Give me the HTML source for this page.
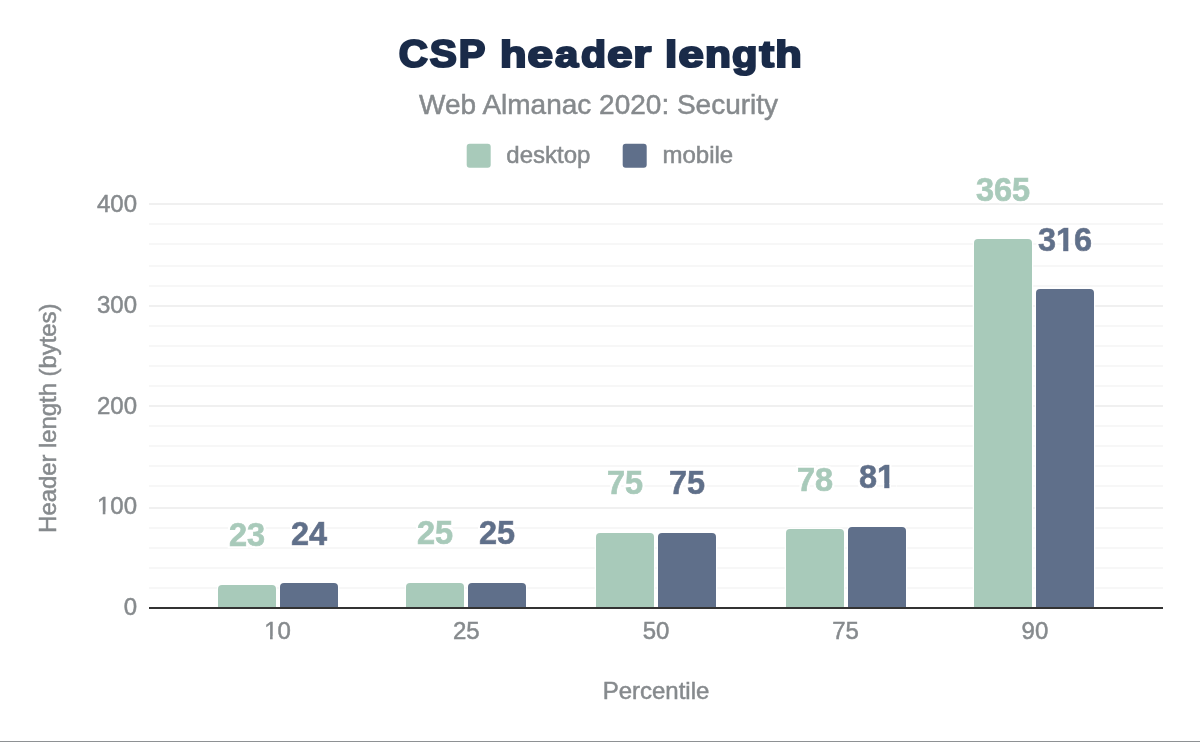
<!DOCTYPE html>
<html lang="en"><head><meta charset="utf-8"><title>CSP header length</title>
<style>
html,body{margin:0;padding:0;background:#fff;}
body{width:1200px;height:742px;overflow:hidden;position:relative;font-family:"Liberation Sans",sans-serif;}
svg{position:absolute;left:0;top:0;display:block;}
svg text{font-family:"Liberation Sans",sans-serif;}
.t{fill:#868a8d;font-size:24px;stroke:#868a8d;stroke-width:0.5px;}
.dl{font-size:32.5px;font-weight:bold;stroke-width:0.7px;}
#bottomline{position:absolute;left:0;top:741px;width:1200px;height:1px;background:#8e9194;}
</style></head><body>
<svg width="1200" height="742" viewBox="0 0 1200 742">
<rect width="1200" height="742" fill="#fff"/>
<defs><filter id="halo" x="-10%" y="-20%" width="120%" height="140%"><feMorphology in="SourceAlpha" operator="dilate" radius="1.5" result="d"/><feFlood flood-color="#fff"/><feComposite in2="d" operator="in"/><feMerge><feMergeNode/><feMergeNode in="SourceGraphic"/></feMerge></filter></defs>
<g shape-rendering="crispEdges">
<rect x="149" y="587" width="1014" height="2" fill="#f7f7f7"/>
<rect x="149" y="567" width="1014" height="2" fill="#f7f7f7"/>
<rect x="149" y="547" width="1014" height="2" fill="#f7f7f7"/>
<rect x="149" y="527" width="1014" height="2" fill="#f7f7f7"/>
<rect x="149" y="507" width="1014" height="2" fill="#f0f0f0"/>
<rect x="149" y="485" width="1014" height="2" fill="#f7f7f7"/>
<rect x="149" y="465" width="1014" height="2" fill="#f7f7f7"/>
<rect x="149" y="445" width="1014" height="2" fill="#f7f7f7"/>
<rect x="149" y="425" width="1014" height="2" fill="#f7f7f7"/>
<rect x="149" y="405" width="1014" height="2" fill="#f0f0f0"/>
<rect x="149" y="385" width="1014" height="2" fill="#f7f7f7"/>
<rect x="149" y="365" width="1014" height="2" fill="#f7f7f7"/>
<rect x="149" y="345" width="1014" height="2" fill="#f7f7f7"/>
<rect x="149" y="325" width="1014" height="2" fill="#f7f7f7"/>
<rect x="149" y="305" width="1014" height="2" fill="#f0f0f0"/>
<rect x="149" y="285" width="1014" height="2" fill="#f7f7f7"/>
<rect x="149" y="265" width="1014" height="2" fill="#f7f7f7"/>
<rect x="149" y="243" width="1014" height="2" fill="#f7f7f7"/>
<rect x="149" y="223" width="1014" height="2" fill="#f7f7f7"/>
<rect x="149" y="203" width="1014" height="2" fill="#f0f0f0"/>
</g>
<text id="title" y="67.1" font-size="37.5" font-weight="bold" fill="#1a2b49" stroke="#1a2b49" stroke-width="2.2" stroke-linejoin="miter" stroke-miterlimit="1.5" xml:space="preserve"><tspan x="398.88" font-size="39.2" textLength="29.09" lengthAdjust="spacingAndGlyphs">C</tspan><tspan x="429.67" font-size="39.2" textLength="27.08" lengthAdjust="spacingAndGlyphs">S</tspan><tspan x="458.75" font-size="39.2" textLength="26.59" lengthAdjust="spacingAndGlyphs">P</tspan> <tspan x="500.05" font-size="37.5" textLength="26.47" lengthAdjust="spacingAndGlyphs">h</tspan><tspan x="527.55" font-size="37.5" textLength="25.47" lengthAdjust="spacingAndGlyphs">e</tspan><tspan x="554.90" font-size="37.5" textLength="23.21" lengthAdjust="spacingAndGlyphs">a</tspan><tspan x="581.12" font-size="37.5" textLength="25.08" lengthAdjust="spacingAndGlyphs">d</tspan><tspan x="607.36" font-size="37.5" textLength="25.26" lengthAdjust="spacingAndGlyphs">e</tspan><tspan x="633.31" font-size="37.5" textLength="17.93" lengthAdjust="spacingAndGlyphs">r</tspan> <tspan x="664.92" font-size="37.5" textLength="12.20" lengthAdjust="spacingAndGlyphs">l</tspan><tspan x="678.56" font-size="37.5" textLength="25.26" lengthAdjust="spacingAndGlyphs">e</tspan><tspan x="705.05" font-size="37.5" textLength="25.94" lengthAdjust="spacingAndGlyphs">n</tspan><tspan x="731.91" font-size="37.5" textLength="25.45" lengthAdjust="spacingAndGlyphs">g</tspan><tspan x="759.45" font-size="37.5" textLength="14.51" lengthAdjust="spacingAndGlyphs">t</tspan><tspan x="775.25" font-size="37.5" textLength="26.47" lengthAdjust="spacingAndGlyphs">h</tspan></text>
<text id="subtitle" x="598.6" y="113.7" text-anchor="middle" font-size="28" fill="#868a8d" stroke="#868a8d" stroke-width="0.5">Web Almanac 2020: Security</text>
<rect x="466.7" y="143.7" width="24" height="24" rx="3" fill="#a8caba"/>
<text class="t" x="506.3" y="163">desktop</text>
<rect x="622.7" y="143.7" width="24" height="24" rx="3" fill="#5f6f8a"/>
<text class="t" x="662.5" y="163">mobile</text>
<text class="t" x="137" y="615.1" text-anchor="end">0</text>
<text class="t" x="137" y="514.3" text-anchor="end">100</text>
<text class="t" x="137" y="413.5" text-anchor="end">200</text>
<text class="t" x="137" y="312.6" text-anchor="end">300</text>
<text class="t" x="137" y="211.8" text-anchor="end">400</text>
<text class="t" transform="translate(56 418.2) rotate(-90)" text-anchor="middle" textLength="229.4" lengthAdjust="spacing">Header length (bytes)</text>
<path d="M218.0 608.0V589.0a4 4 0 0 1 4 -4H272.0a4 4 0 0 1 4 4V608.0Z" fill="#a8caba" stroke="#fff" stroke-width="2.6" paint-order="stroke"/>
<text class="dl" filter="url(#halo)" x="247.0" y="546.3" text-anchor="middle" fill="#a8caba" stroke="#a8caba">23</text>
<path d="M280.0 608.0V587.0a4 4 0 0 1 4 -4H334.0a4 4 0 0 1 4 4V608.0Z" fill="#5f6f8a" stroke="#fff" stroke-width="2.6" paint-order="stroke"/>
<text class="dl" filter="url(#halo)" x="309.0" y="544.9" text-anchor="middle" fill="#5f6f8a" stroke="#5f6f8a">24</text>
<text class="t" x="277.6" y="639" text-anchor="middle">10</text>
<path d="M406.0 608.0V587.0a4 4 0 0 1 4 -4H460.0a4 4 0 0 1 4 4V608.0Z" fill="#a8caba" stroke="#fff" stroke-width="2.6" paint-order="stroke"/>
<text class="dl" filter="url(#halo)" x="435.0" y="544.2" text-anchor="middle" fill="#a8caba" stroke="#a8caba">25</text>
<path d="M468.0 608.0V587.0a4 4 0 0 1 4 -4H522.0a4 4 0 0 1 4 4V608.0Z" fill="#5f6f8a" stroke="#fff" stroke-width="2.6" paint-order="stroke"/>
<text class="dl" filter="url(#halo)" x="497.0" y="544.2" text-anchor="middle" fill="#5f6f8a" stroke="#5f6f8a">25</text>
<text class="t" x="466.3" y="639" text-anchor="middle">25</text>
<path d="M596.0 608.0V537.0a4 4 0 0 1 4 -4H650.0a4 4 0 0 1 4 4V608.0Z" fill="#a8caba" stroke="#fff" stroke-width="2.6" paint-order="stroke"/>
<text class="dl" filter="url(#halo)" x="625.0" y="493.8" text-anchor="middle" fill="#a8caba" stroke="#a8caba">75</text>
<path d="M658.0 608.0V537.0a4 4 0 0 1 4 -4H712.0a4 4 0 0 1 4 4V608.0Z" fill="#5f6f8a" stroke="#fff" stroke-width="2.6" paint-order="stroke"/>
<text class="dl" filter="url(#halo)" x="687.0" y="493.8" text-anchor="middle" fill="#5f6f8a" stroke="#5f6f8a">75</text>
<text class="t" x="656.0" y="639" text-anchor="middle">50</text>
<path d="M786.0 608.0V533.0a4 4 0 0 1 4 -4H840.0a4 4 0 0 1 4 4V608.0Z" fill="#a8caba" stroke="#fff" stroke-width="2.6" paint-order="stroke"/>
<text class="dl" filter="url(#halo)" x="815.0" y="490.7" text-anchor="middle" fill="#a8caba" stroke="#a8caba">78</text>
<path d="M848.0 608.0V531.0a4 4 0 0 1 4 -4H902.0a4 4 0 0 1 4 4V608.0Z" fill="#5f6f8a" stroke="#fff" stroke-width="2.6" paint-order="stroke"/>
<text class="dl" filter="url(#halo)" x="877.0" y="487.7" text-anchor="middle" fill="#5f6f8a" stroke="#5f6f8a">81</text>
<text class="t" x="845.5" y="639" text-anchor="middle">75</text>
<path d="M974.0 608.0V243.0a4 4 0 0 1 4 -4H1028.0a4 4 0 0 1 4 4V608.0Z" fill="#a8caba" stroke="#fff" stroke-width="2.6" paint-order="stroke"/>
<text class="dl" filter="url(#halo)" x="1003.0" y="200.9" text-anchor="middle" fill="#a8caba" stroke="#a8caba">365</text>
<path d="M1036.0 608.0V293.0a4 4 0 0 1 4 -4H1090.0a4 4 0 0 1 4 4V608.0Z" fill="#5f6f8a" stroke="#fff" stroke-width="2.6" paint-order="stroke"/>
<text class="dl" filter="url(#halo)" x="1065.0" y="251.0" text-anchor="middle" fill="#5f6f8a" stroke="#5f6f8a">316</text>
<text class="t" x="1034.9" y="639" text-anchor="middle">90</text>
<rect x="97.74" y="511.66" width="5.01" height="4.29" fill="#fff"/>
<rect x="105.36" y="511.66" width="4.82" height="4.29" fill="#fff"/>
<rect x="265.03" y="636.36" width="5.01" height="4.29" fill="#fff"/>
<rect x="272.66" y="636.36" width="4.82" height="4.29" fill="#fff"/>
<rect x="877.90" y="483.42" width="6.34" height="6.02" fill="#fff"/>
<rect x="889.39" y="483.42" width="5.93" height="6.02" fill="#fff"/>
<rect x="877.40" y="485" width="5.34" height="2" fill="#f7f7f7" shape-rendering="crispEdges"/>
<rect x="890.89" y="485" width="4.93" height="2" fill="#f7f7f7" shape-rendering="crispEdges"/>
<rect x="1056.86" y="246.77" width="6.34" height="6.02" fill="#fff"/>
<rect x="1068.36" y="246.77" width="5.93" height="6.02" fill="#fff"/>
<rect x="149" y="607" width="1014" height="2" fill="#333" shape-rendering="crispEdges"/>
<text class="t" x="656" y="698.8" text-anchor="middle">Percentile</text>
</svg>
<div id="bottomline"></div>
</body></html>
